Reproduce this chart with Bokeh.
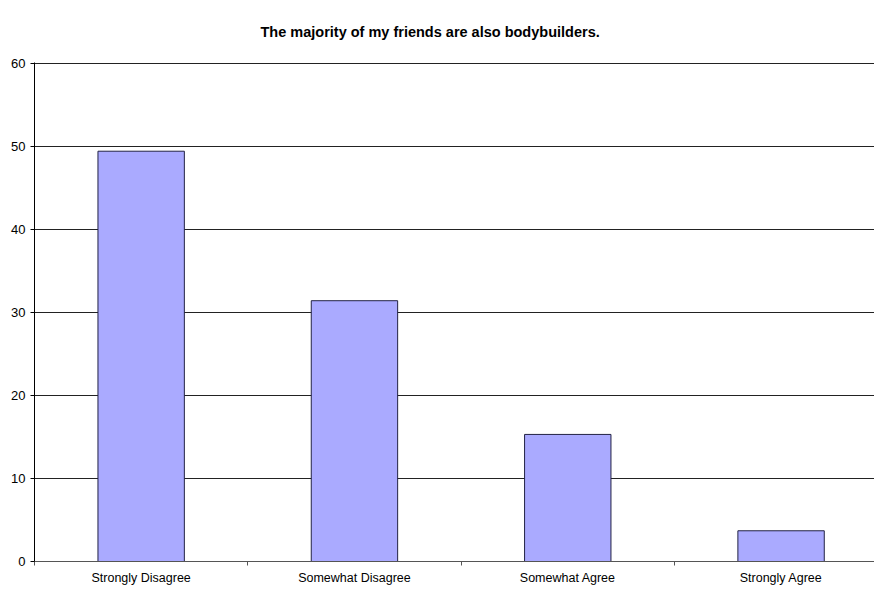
from bokeh.plotting import figure
from bokeh.models import FixedTicker, Range1d, ColumnDataSource, Title
from bokeh.embed import file_html
from bokeh.resources import INLINE

title_text = "The majority of my friends are also bodybuilders."
categories = ["Strongly Disagree", "Somewhat Disagree", "Somewhat Agree", "Strongly Agree"]
values = [49.4, 31.4, 15.3, 3.7]
y_ticks = [0, 10, 20, 30, 40, 50, 60]

positions = [i + 0.5 for i in range(len(categories))]
src = ColumnDataSource(dict(x=positions, top=values))

p = figure(width=874, height=589, output_backend="svg", toolbar_location=None,
           x_range=Range1d(0, 3.938), y_range=Range1d(0, 60.08),
           min_border_left=34, min_border_right=0, min_border_top=62, min_border_bottom=28)
p.title = None
p.add_layout(Title(text=title_text, align="left",
                   offset=226, vertical_align="top",
                   text_font="Liberation Sans", text_font_size="14.5px", text_font_style="bold",
                   text_color="#000000", standoff=42), "above")

p.vbar(x="x", top="top", width=0.405, bottom=0, source=src,
       fill_color="#aaaaff", line_color="#222244", line_width=1)

p.outline_line_color = None
p.background_fill_color = "white"
p.border_fill_color = "white"

p.xgrid.visible = False
p.ygrid.ticker = FixedTicker(ticks=y_ticks)
p.ygrid.grid_line_color = "#222222"
p.ygrid.grid_line_width = 1
p.ygrid.level = "underlay"

p.yaxis.ticker = FixedTicker(ticks=y_ticks)
p.yaxis.axis_line_color = "#000000"
p.yaxis.major_tick_line_color = "#000000"
p.yaxis.major_tick_out = 4
p.yaxis.major_tick_in = 0
p.yaxis.minor_tick_line_color = None
p.yaxis.major_label_text_font = "Liberation Sans"
p.yaxis.major_label_text_font_size = "13px"
p.yaxis.major_label_text_color = "#000000"
p.yaxis.major_label_standoff = 5

p.xaxis.ticker = FixedTicker(ticks=positions, minor_ticks=[0, 1, 2, 3, 4])
p.xaxis.major_label_overrides = {pos: c for pos, c in zip(positions, categories)}
p.xaxis.axis_line_color = "#555555"
p.xaxis.major_tick_out = 0
p.xaxis.major_tick_in = 0
p.xaxis.minor_tick_out = 4
p.xaxis.minor_tick_in = 0
p.xaxis.minor_tick_line_color = "#555555"
p.xaxis.major_label_text_font = "Liberation Sans"
p.xaxis.major_label_text_font_size = "12.5px"
p.xaxis.major_label_text_color = "#000000"
p.xaxis.major_label_standoff = 5

open("out.html", "w").write(file_html(p, INLINE))
